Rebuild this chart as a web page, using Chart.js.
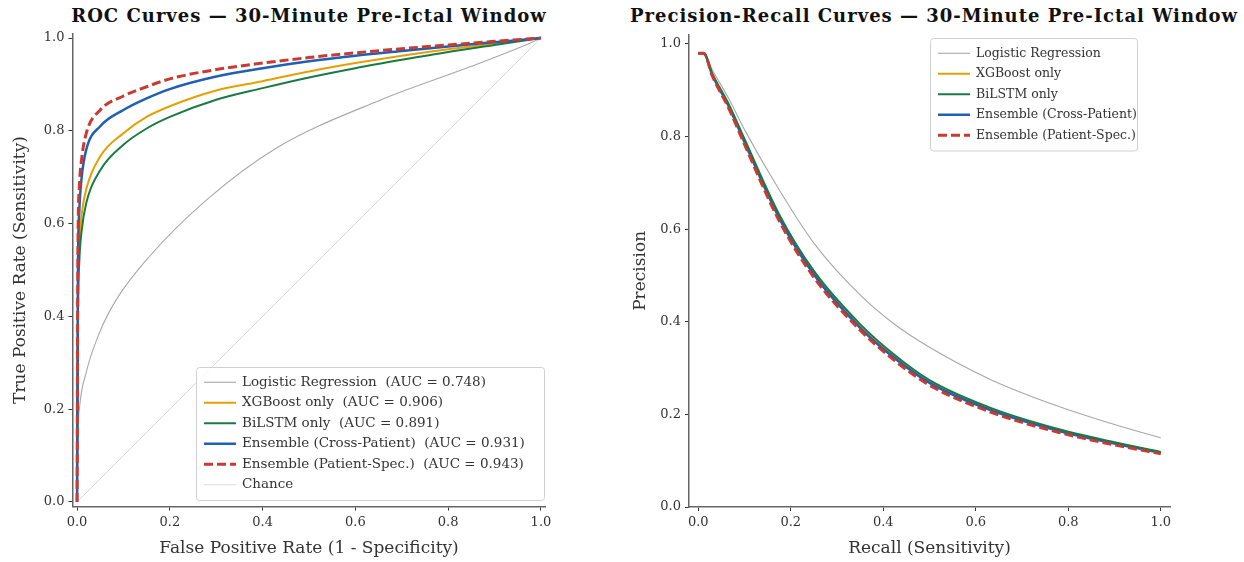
<!DOCTYPE html>
<html lang="en">
<head>
<meta charset="UTF-8" />
<title>ROC and PR curves - 30-minute pre-ictal window</title>
<script src="https://cdn.jsdelivr.net/npm/chart.js@4"></script>
<style>
  html, body { margin: 0; padding: 0; background: #fff; }
  body { width: 1244px; height: 562px; position: relative; overflow: hidden; font-family: "DejaVu Serif", serif; }
  .panel { position: absolute; top: 0; height: 562px; }
  .ttl { position: absolute; top: 5px; font-weight: bold; font-size: 18px; letter-spacing: 1px; color: #111; text-align: center; white-space: nowrap; }
</style>
</head>
<body>
<div class="ttl" style="left:9px;width:600px;">ROC Curves — 30-Minute Pre-Ictal Window</div>
<div class="ttl" style="left:630px;width:600px;">Precision-Recall Curves — 30-Minute Pre-Ictal Window</div>
<div class="panel" style="left:0;width:600px;"><canvas id="roc"></canvas></div>
<div class="panel" style="left:620px;width:624px;"><canvas id="pr"></canvas></div>
<script>
// ---- data ----
const modelNames = ["Logistic Regression", "XGBoost only", "BiLSTM only", "Ensemble (Cross-Patient)", "Ensemble (Patient-Spec.)"];
const aucValues = [0.748, 0.906, 0.891, 0.931, 0.943];
const tickVals = [0, 0.2, 0.4, 0.6, 0.8, 1.0];

// ROC: logistic regression has its own x points
const lrFpr = [0, 0.002, 0.005, 0.02, 0.048, 0.084, 0.155, 0.278, 0.43, 0.653, 0.847, 0.976, 1];
const lrTpr = [0, 0.15, 0.2, 0.28, 0.364, 0.435, 0.528, 0.65, 0.763, 0.866, 0.938, 0.989, 1];

const rocFpr = [0, 0.002, 0.005, 0.01, 0.02, 0.05, 0.1, 0.15, 0.2, 0.3, 0.4, 0.5, 0.6, 0.7, 0.8, 0.9, 1];
const tprXgb = [0, 0.45, 0.56, 0.62, 0.675, 0.745, 0.795, 0.83, 0.853, 0.887, 0.907, 0.928, 0.946, 0.962, 0.976, 0.988, 1];
const tprBilstm = [0, 0.40, 0.52, 0.585, 0.645, 0.715, 0.77, 0.805, 0.83, 0.867, 0.892, 0.915, 0.935, 0.953, 0.97, 0.985, 1];
const tprCross = [0, 0.50, 0.63, 0.70, 0.76, 0.81, 0.845, 0.87, 0.89, 0.917, 0.935, 0.95, 0.962, 0.972, 0.982, 0.991, 1];
const tprPatient = [0, 0.55, 0.68, 0.74, 0.795, 0.845, 0.875, 0.895, 0.912, 0.932, 0.946, 0.958, 0.968, 0.977, 0.985, 0.993, 1];
const chanceX = [0, 1];
const chanceY = [0, 1];

// PR curves
const prRecall = [0, 0.012, 0.03, 0.067, 0.1, 0.175, 0.25, 0.35, 0.42, 0.5, 0.635, 0.78, 0.9, 1.0];
const precLr = [0.98, 0.98, 0.945, 0.88, 0.815, 0.685, 0.57, 0.458, 0.398, 0.345, 0.274, 0.217, 0.178, 0.149];
const precXgb = [0.98, 0.98, 0.935, 0.865, 0.79, 0.627, 0.505, 0.39, 0.328, 0.27, 0.21, 0.166, 0.138, 0.118];
const precBilstm = [0.98, 0.98, 0.937, 0.868, 0.795, 0.632, 0.51, 0.395, 0.332, 0.274, 0.213, 0.168, 0.14, 0.119];
const precCross = [0.98, 0.98, 0.934, 0.863, 0.788, 0.624, 0.502, 0.387, 0.325, 0.268, 0.208, 0.164, 0.137, 0.117];
const precPatient = [0.98, 0.98, 0.932, 0.859, 0.783, 0.618, 0.496, 0.382, 0.32, 0.263, 0.204, 0.161, 0.134, 0.115];

const colors = ["#a8a8a8", "#e69f00", "#1b7a44", "#1f5fb4", "#c83a32"];
const widths = [1.1, 2, 2, 2.5, 3];

const pts = (xs, ys) => xs.map((x, i) => ({ x: x, y: ys[i] }));
const FONT = "'DejaVu Serif', serif";

function series(label, xs, ys, i, order) {
  return {
    label: label,
    data: pts(xs, ys),
    borderColor: colors[i],
    borderWidth: widths[i],
    borderDash: i === 4 ? [9, 4] : [],
    showLine: true,
    pointRadius: 0,
    cubicInterpolationMode: "monotone",
    fill: false,
    order: order,
  };
}

// legend drawn inside plot area
const boxLegend = {
  id: "boxLegend",
  afterDraw(chart, args, opts) {
    const ctx = chart.ctx;
    const items = chart.data.datasets.filter((d) => d.label);
    const rowH = opts.rowH;
    const w = opts.width;
    const h = items.length * rowH + 10;
    const x = opts.right - w;
    const y = opts.top != null ? opts.top : opts.bottom - h;
    ctx.save();
    ctx.fillStyle = "rgba(255,255,255,0.85)";
    ctx.strokeStyle = "#d0d0d0";
    ctx.lineWidth = 1;
    ctx.beginPath();
    ctx.roundRect(x + 0.5, y + 0.5, w, h, 3);
    ctx.fill();
    ctx.stroke();
    ctx.font = opts.fontSize + "px " + FONT;
    ctx.textBaseline = "middle";
    items.forEach((d, k) => {
      const cy = y + 5 + rowH * (k + 0.5);
      ctx.strokeStyle = d.borderColor;
      ctx.lineWidth = d.borderWidth;
      ctx.setLineDash(d.borderDash || []);
      ctx.beginPath();
      ctx.moveTo(x + 8, cy);
      ctx.lineTo(x + 40, cy);
      ctx.stroke();
      ctx.setLineDash([]);
      ctx.fillStyle = "#333";
      ctx.fillText(d.legendText || d.label, x + 46, cy);
    });
    ctx.restore();
  },
};

function axis(min, max, title, fixed, horizontal) {
  return {
    type: "linear",
    min: min,
    max: max,
    afterBuildTicks: (s) => { s.ticks = tickVals.map((v) => ({ value: v })); },
    afterFit: (s) => { if (horizontal) s.height = fixed; else s.width = fixed; },
    ticks: {
      callback: (v) => Number(v).toFixed(1),
      font: { family: FONT, size: 13 },
      color: "#333",
      padding: 4,
      maxRotation: 0,
    },
    grid: { display: true, drawOnChartArea: false, drawTicks: true, tickLength: 4, tickColor: "#333", tickWidth: 1 },
    border: { display: true, color: "#666", width: 1.5 },
    title: {
      display: true,
      text: title,
      font: { family: FONT, size: 17 },
      color: "#333",
      padding: horizontal ? { top: 2, bottom: 3 } : { top: 10, bottom: 2 },
    },
  };
}

const rocSets = [
  series("Logistic Regression", lrFpr, lrTpr, 0, 5),
  series("XGBoost only", rocFpr, tprXgb, 1, 4),
  series("BiLSTM only", rocFpr, tprBilstm, 2, 3),
  series("Ensemble (Cross-Patient)", rocFpr, tprCross, 3, 2),
  series("Ensemble (Patient-Spec.)", rocFpr, tprPatient, 4, 1),
  {
    label: "Chance", data: pts(chanceX, chanceY), borderColor: "#dddddd", borderWidth: 1,
    showLine: true, pointRadius: 0, order: 6, borderDash: [],
  },
];
rocSets.forEach((d, i) => {
  if (i < aucValues.length) d.legendText = d.label + "  (AUC = " + aucValues[i].toFixed(3) + ")";
});

new Chart(document.getElementById("roc"), {
  type: "scatter",
  data: { datasets: rocSets },
  options: {
    responsive: true,
    maintainAspectRatio: false,
    animation: false,
    layout: { padding: { top: 33.4, right: 54.4, bottom: 0, left: 0 } },
    plugins: {
      legend: { display: false },
      tooltip: { enabled: false },
      boxLegend: { right: 544, bottom: 500, width: 348, rowH: 20.5, fontSize: 13.5 },
    },
    scales: {
      x: axis(-0.01, 1.01, "False Positive Rate (1 - Specificity)", 55.4, true),
      y: axis(-0.01, 1.01, "True Positive Rate (Sensitivity)", 72.4, false),
    },
  },
  plugins: [boxLegend],
});

const prSets = [
  series("Logistic Regression", prRecall, precLr, 0, 5),
  series("XGBoost only", prRecall, precXgb, 1, 4),
  series("BiLSTM only", prRecall, precBilstm, 2, 2),
  series("Ensemble (Cross-Patient)", prRecall, precCross, 3, 3),
  series("Ensemble (Patient-Spec.)", prRecall, precPatient, 4, 1),
];

new Chart(document.getElementById("pr"), {
  type: "scatter",
  data: { datasets: prSets },
  options: {
    responsive: true,
    maintainAspectRatio: false,
    animation: false,
    layout: { padding: { top: 34.7, right: 74, bottom: 0, left: 0 } },
    plugins: {
      legend: { display: false },
      tooltip: { enabled: false },
      boxLegend: { right: 517, top: 38, width: 207, rowH: 20.5, fontSize: 12.5 },
    },
    scales: {
      x: axis(-0.02, 1.02, "Recall (Sensitivity)", 55, true),
      y: axis(0, 1.02, "Precision", 69, false),
    },
  },
  plugins: [boxLegend],
});
</script>
</body>
</html>
